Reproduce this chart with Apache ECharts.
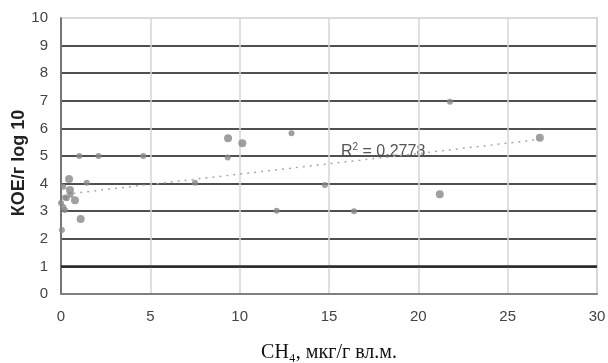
<!DOCTYPE html>
<html>
<head>
<meta charset="utf-8">
<script src="https://cdn.jsdelivr.net/npm/echarts@6/dist/echarts.min.js"></script>
<style>
  html, body { margin: 0; padding: 0; background: #fff; }
  #chart { width: 608px; height: 363px; }
</style>
</head>
<body>
<div id="chart"></div>
<script>
// small cross-like dots
const smallPts = [
  [1.02, 5.0], [2.1, 5.0], [4.6, 5.0], [1.44, 4.03], [0.13, 3.89],
  [0.54, 3.6], [0.22, 3.5], [0.32, 3.47], [0.0, 3.3], [0.13, 3.15],
  [0.22, 3.04], [0.05, 2.32], [7.5, 4.03], [9.33, 4.95], [12.9, 5.82],
  [14.77, 3.95], [12.07, 3.02], [16.4, 3.0], [21.77, 6.97]
];
// larger round dots
const bigPts = [
  [0.45, 4.17], [0.5, 3.77], [0.78, 3.4], [1.1, 2.72], [9.35, 5.64],
  [10.15, 5.46], [21.2, 3.61], [26.8, 5.66]
];
// linear trend
const trendPts = [[0.3, 3.62], [26.8, 5.6]];
const xTicks = [0, 5, 10, 15, 20, 25, 30];
const yTicks = [0, 1, 2, 3, 4, 5, 6, 7, 8, 9, 10];
const yTitle = "КОЕ/г log 10";
const xTitle = "CH\u2084, мкг/г вл.м.";
const r2Label = "0,2778";

const chart = echarts.init(document.getElementById("chart"));

const option = {
  animation: false,
  grid: {
    left: 61, right: 11, top: 18, bottom: 69,
    outerBoundsMode: "none",
    containLabel: false,
    show: true, borderColor: "#d0d0d0", borderWidth: 1.5
  },
  xAxis: {
    type: "value",
    min: xTicks[0], max: xTicks[xTicks.length - 1], interval: 5,
    axisLine: { show: true, onZero: false, lineStyle: { color: "#808080", width: 2 } },
    axisTick: { show: false },
    axisLabel: { color: "#444", fontSize: 15, fontFamily: "Liberation Sans", margin: 15 },
    splitLine: { show: true, lineStyle: { color: "#d6d6d6", width: 1.5 } },
    name: xTitle,
    nameLocation: "middle",
    nameGap: 49,
    nameTextStyle: { color: "#111", fontSize: 20, fontFamily: "Liberation Serif" }
  },
  yAxis: {
    type: "value",
    min: yTicks[0], max: yTicks[yTicks.length - 1], interval: 1,
    axisLine: { show: true, lineStyle: { color: "#555", width: 1.5 } },
    axisTick: { show: false },
    axisLabel: { color: "#444", fontSize: 15, fontFamily: "Liberation Sans", margin: 13 },
    splitLine: { show: true, showMaxLine: false, lineStyle: { color: "#505050", width: 2 } }
  },
  series: [
    {
      type: "scatter",
      data: smallPts,
      symbolSize: 6,
      itemStyle: { color: "#888" },
      z: 5
    },
    {
      type: "scatter",
      data: bigPts,
      symbolSize: 8,
      itemStyle: { color: "#888" },
      z: 5
    },
    {
      type: "line",
      data: trendPts,
      showSymbol: false,
      lineStyle: { color: "#a8a8a8", width: 1.5, type: [2, 5] },
      z: 4,
      markLine: {
        silent: true,
        symbol: "none",
        label: { show: false },
        lineStyle: { color: "#2a2a2a", width: 2.5, type: "solid" },
        data: [{ yAxis: 1 }]
      }
    }
  ],
  graphic: [
    {
      type: "text",
      x: 19, y: 163,
      rotation: Math.PI / 2,
      style: {
        text: yTitle,
        fill: "#222",
        font: "bold 18px 'Liberation Sans'",
        align: "center",
        verticalAlign: "middle"
      }
    },
    {
      type: "text",
      left: 341, top: 142,
      style: {
        text: "{a|R}{s|2}{a| = " + r2Label + "}",
        rich: {
          a: { fontSize: 16, fontFamily: "Liberation Sans", fill: "#555" },
          s: { fontSize: 10, fontFamily: "Liberation Sans", fill: "#555", verticalAlign: "top", padding: [0, 0, 9, 0] }
        }
      }
    }
  ]
};

chart.setOption(option);
</script>
</body>
</html>
